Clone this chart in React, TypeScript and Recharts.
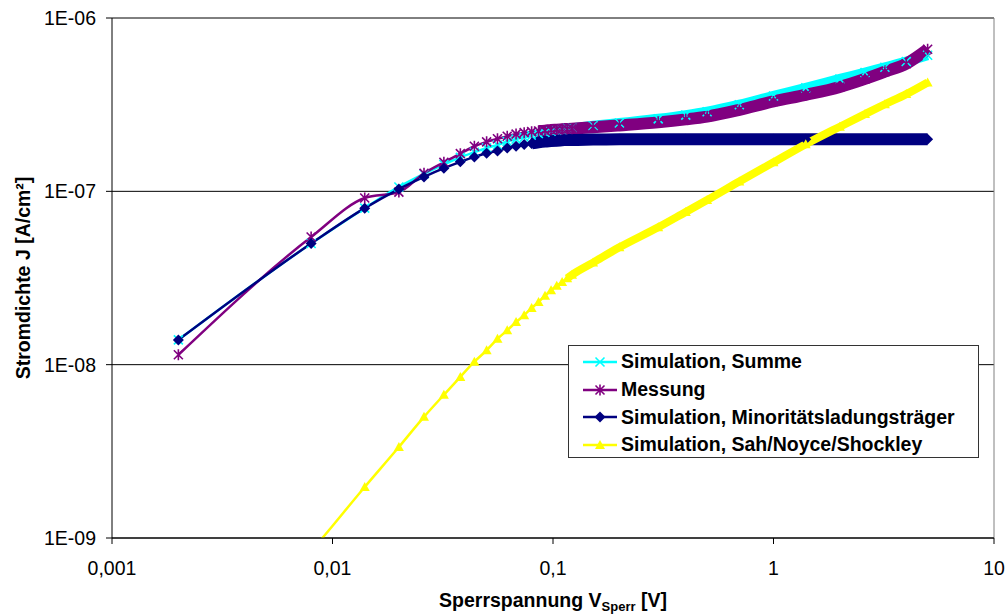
import React from 'react';
import {
  LineChart,
  Line,
  XAxis,
  YAxis,
  CartesianGrid,
  ReferenceLine,
  Legend,
} from 'recharts';

// reverse voltage [V]
const VOLTAGE = [
  0.002, 0.008, 0.014, 0.02, 0.026, 0.032, 0.038, 0.044, 0.05, 0.056, 0.062, 0.068,
  0.074, 0.08, 0.086, 0.092, 0.098, 0.104, 0.11, 0.116, 0.122, 0.152, 0.2, 0.3, 0.4,
  0.5, 0.7, 1.0, 1.4, 2.0, 2.6, 3.2, 4.0, 5.0,
];

// current density [A/cm²]
const SUMME = [
  1.39e-8, 5.0e-8, 8.0e-8, 1.06e-7, 1.26e-7, 1.43e-7, 1.57e-7, 1.68e-7, 1.78e-7, 1.85e-7,
  1.94e-7, 2.0e-7, 2.05e-7, 2.1e-7, 2.15e-7, 2.19e-7, 2.22e-7, 2.25e-7, 2.27e-7, 2.3e-7,
  2.31e-7, 2.39e-7, 2.48e-7, 2.62e-7, 2.75e-7, 2.88e-7, 3.16e-7, 3.55e-7, 3.95e-7, 4.45e-7,
  4.85e-7, 5.2e-7, 5.6e-7, 6.1e-7,
];

const MESSUNG = [
  1.14e-8, 5.45e-8, 9.15e-8, 9.9e-8, 1.27e-7, 1.47e-7, 1.65e-7, 1.82e-7, 1.93e-7, 2.01e-7,
  2.08e-7, 2.14e-7, 2.18e-7, 2.21e-7, 2.23e-7, 2.24e-7, 2.26e-7, 2.27e-7, 2.28e-7, 2.29e-7,
  2.3e-7, 2.34e-7, 2.4e-7, 2.5e-7, 2.6e-7, 2.7e-7, 2.95e-7, 3.3e-7, 3.6e-7, 4.0e-7,
  4.45e-7, 4.9e-7, 5.45e-7, 6.6e-7,
];

const MINORITAET = [
  1.39e-8, 5.0e-8, 8.0e-8, 1.03e-7, 1.21e-7, 1.36e-7, 1.48e-7, 1.58e-7, 1.66e-7, 1.71e-7,
  1.78e-7, 1.82e-7, 1.86e-7, 1.89e-7, 1.92e-7, 1.94e-7, 1.95e-7, 1.96e-7, 1.97e-7, 1.98e-7,
  1.98e-7, 1.99e-7, 2.0e-7, 2.0e-7, 2.0e-7, 2.0e-7, 2.0e-7, 2.0e-7, 2.0e-7, 2.0e-7,
  2.0e-7, 2.0e-7, 2.0e-7, 2.0e-7,
];

const SNS = [
  1.5e-10, 8.4e-10, 1.97e-9, 3.35e-9, 5.0e-9, 6.7e-9, 8.5e-9, 1.04e-8, 1.21e-8, 1.41e-8,
  1.58e-8, 1.76e-8, 1.93e-8, 2.12e-8, 2.3e-8, 2.5e-8, 2.69e-8, 2.85e-8, 3.0e-8, 3.15e-8,
  3.3e-8, 3.88e-8, 4.75e-8, 6.2e-8, 7.6e-8, 8.9e-8, 1.14e-7, 1.47e-7, 1.87e-7, 2.36e-7,
  2.79e-7, 3.18e-7, 3.64e-7, 4.25e-7,
];

const X_TICKS = [0.001, 0.01, 0.1, 1, 10];
const X_TICK_LABELS = ['0,001', '0,01', '0,1', '1', '10'];
const Y_TICKS = [1e-9, 1e-8, 1e-7, 1e-6];
const Y_TICK_LABELS = ['1E-09', '1E-08', '1E-07', '1E-06'];

const FONT = '"Liberation Sans", Arial, sans-serif';

type Marker = 'cross' | 'star' | 'diamond' | 'triangle';

// band = width of the thick stroke where the dense markers merge
const SERIES: {
  key: string;
  name: string;
  color: string;
  marker: Marker;
  values: number[];
  band: number;
  bandFrom: number;
}[] = [
  { key: 'summe', name: 'Simulation, Summe', color: '#00FFFF', marker: 'cross', values: SUMME, band: 10, bandFrom: 0.086 },
  { key: 'messung', name: 'Messung', color: '#800080', marker: 'star', values: MESSUNG, band: 12, bandFrom: 0.086 },
  { key: 'minor', name: 'Simulation, Minoritätsladungsträger', color: '#000080', marker: 'diamond', values: MINORITAET, band: 12, bandFrom: 0.08 },
  { key: 'sns', name: 'Simulation, Sah/Noyce/Shockley', color: '#FFFF00', marker: 'triangle', values: SNS, band: 8, bandFrom: 0.116 },
];

const rows = VOLTAGE.map((v, i) => {
  const row: Record<string, number | null> = { v };
  SERIES.forEach((s) => {
    row[s.key] = s.values[i];
    row[s.key + 'Band'] = v >= s.bandFrom ? s.values[i] : null;
  });
  return row;
});

function markerShape(kind: Marker, x: number, y: number, color: string, key?: string) {
  switch (kind) {
    case 'cross': {
      const r = 4.5;
      return (
        <path key={key} d={`M${x - r},${y - r}L${x + r},${y + r}M${x - r},${y + r}L${x + r},${y - r}`}
          stroke={color} strokeWidth={1.6} fill="none" />
      );
    }
    case 'star': {
      const r = 4.5;
      return (
        <path key={key}
          d={`M${x - r},${y - r}L${x + r},${y + r}M${x - r},${y + r}L${x + r},${y - r}M${x},${y - r - 1}L${x},${y + r + 1}`}
          stroke={color} strokeWidth={1.6} fill="none" />
      );
    }
    case 'diamond': {
      const r = 5.5;
      return <polygon key={key} points={`${x},${y - r} ${x + r},${y} ${x},${y + r} ${x - r},${y}`} fill={color} />;
    }
    default: {
      const r = 5;
      return <polygon key={key} points={`${x},${y - r} ${x + r},${y + r * 0.8} ${x - r},${y + r * 0.8}`} fill={color} />;
    }
  }
}

const makeDot = (kind: Marker, color: string, name: string) => (p: any) => {
  const k = `${name}-${p.index}`;
  if (p.cx == null || p.cy == null) return <g key={k} />;
  return markerShape(kind, p.cx, p.cy, color, k);
};

const renderLegend = () => (
  <div
    style={{
      width: 411,
      height: 113,
      boxSizing: 'border-box',
      border: '1px solid #333',
      background: '#fff',
      padding: '2px 0 0 14px',
      fontFamily: FONT,
      fontWeight: 'bold',
      fontSize: 19.5,
      color: '#000',
    }}
  >
    {SERIES.map((s) => (
      <div key={s.key} style={{ display: 'flex', alignItems: 'center', height: 27.7, whiteSpace: 'nowrap' }}>
        <svg width={38} height={20} style={{ flex: 'none' }}>
          <line x1={0} y1={10} x2={34} y2={10} stroke={s.color} strokeWidth={2.5} />
          {markerShape(s.marker, 17, 10, s.color)}
        </svg>
        <span>{s.name}</span>
      </div>
    ))}
  </div>
);

const renderXTitle = (props: any) => {
  const { x, width } = props.viewBox;
  return (
    <text x={x + width / 2} y={607} textAnchor="middle" fontFamily={FONT} fontWeight="bold" fontSize={19.5} fill="#000">
      <tspan>Sperrspannung V</tspan>
      <tspan fontSize={13} dy={4}>Sperr</tspan>
      <tspan dy={-4}> [V]</tspan>
    </text>
  );
};

const renderYTitle = (props: any) => {
  const { y, height } = props.viewBox;
  const cy = y + height / 2;
  return (
    <text x={22.5} y={cy} transform={`rotate(-90, 22.5, ${cy})`} textAnchor="middle" dominantBaseline="central"
      fontFamily={FONT} fontWeight="bold" fontSize={19.5} fill="#000">
      Stromdichte J [A/cm²]
    </text>
  );
};

export default function App() {
  return (
    <div style={{ position: 'absolute', left: 0, top: 0, width: 1006, height: 616, background: '#fff' }}>
      <LineChart width={1006} height={616} data={rows} margin={{ top: 18, right: 12, bottom: 0, left: 0 }}>
        <CartesianGrid vertical={false} stroke="#000" />
        <XAxis
          dataKey="v"
          type="number"
          scale="log"
          domain={[0.001, 10]}
          ticks={X_TICKS}
          tickFormatter={(v: number) => X_TICK_LABELS[X_TICKS.indexOf(v)]}
          allowDataOverflow
          height={78}
          stroke="#000"
          tickSize={6}
          tickMargin={17}
          tick={{ fill: '#000', fontSize: 19.5, fontFamily: FONT }}
          label={renderXTitle}
        />
        <YAxis
          type="number"
          scale="log"
          domain={[1e-9, 1e-6]}
          ticks={Y_TICKS}
          tickFormatter={(v: number) => Y_TICK_LABELS[Y_TICKS.indexOf(v)]}
          allowDataOverflow
          width={112}
          stroke="#000"
          tickSize={6}
          tickMargin={10}
          tick={{ fill: '#000', fontSize: 19.5, fontFamily: FONT }}
          label={renderYTitle}
        />
        <ReferenceLine y={1e-6} stroke="#808080" />
        <ReferenceLine x={10} stroke="#808080" />
        {SERIES.flatMap((s) => [
          <Line
            key={s.key + 'Band'}
            dataKey={s.key + 'Band'}
            type="monotone"
            stroke={s.color}
            strokeWidth={s.band}
            dot={false}
            activeDot={false}
            legendType="none"
            isAnimationActive={false}
          />,
          <Line
            key={s.key}
            dataKey={s.key}
            name={s.name}
            type="monotone"
            stroke={s.color}
            strokeWidth={2.5}
            dot={makeDot(s.marker, s.color, s.key)}
            activeDot={false}
            isAnimationActive={false}
          />,
        ])}
        <Legend
          layout="vertical"
          align="center"
          verticalAlign="middle"
          content={renderLegend}
          wrapperStyle={{ left: 568, top: 345, width: 411, height: 113 }}
        />
      </LineChart>
    </div>
  );
}
